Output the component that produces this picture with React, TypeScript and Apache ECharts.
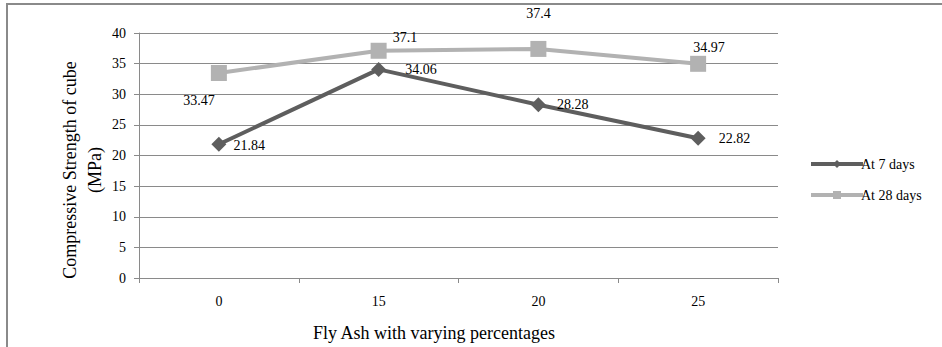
import React, { useEffect, useRef } from "react";
import * as echarts from "echarts";

const categories = ["0", "15", "20", "25"];
const days7 = [21.84, 34.06, 28.28, 22.82];
const days28 = [33.47, 37.1, 37.4, 34.97];
const yTicks = [0, 5, 10, 15, 20, 25, 30, 35, 40];

// label placement per point (styling only)
const lbl7 = [
  { position: "right", offset: [2, 1] },
  { position: "right", offset: [14, 0] },
  { position: "right", offset: [6, 0] },
  { position: "right", offset: [8, 0] },
];
const lbl28 = [
  { position: "bottom", offset: [-20, 8] },
  { position: "right", offset: [1, -13] },
  { position: "top", offset: [0, -15] },
  { position: "right", offset: [-18, -16] },
];

const FONT = "'Liberation Serif', 'Times New Roman', serif";

export default function App() {
  const ref = useRef<HTMLDivElement>(null);
  useEffect(() => {
    const chart = echarts.init(ref.current!, undefined, { renderer: "svg" });
    const labelBase = { show: true, fontFamily: FONT, fontSize: 14, color: "#000" };
    chart.setOption({
      animation: false,
      backgroundColor: "#fff",
      grid: { left: 139, top: 33, width: 639, height: 245, containLabel: false },
      xAxis: {
        type: "category",
        data: categories,
        boundaryGap: true,
        axisLine: { lineStyle: { color: "#8a8a8a", width: 1 } },
        axisTick: { show: true, length: 5, lineStyle: { color: "#8a8a8a" } },
        axisLabel: { fontFamily: FONT, fontSize: 14, color: "#000", margin: 16 },
      },
      yAxis: {
        type: "value",
        min: yTicks[0],
        max: yTicks[yTicks.length - 1],
        interval: 5,
        axisLine: { show: true, lineStyle: { color: "#8a8a8a", width: 1 } },
        axisTick: { show: true, length: 5, lineStyle: { color: "#8a8a8a" } },
        splitLine: { lineStyle: { color: "#8a8a8a", width: 1 } },
        axisLabel: { fontFamily: FONT, fontSize: 14, color: "#000", margin: 13 },
      },
      legend: {
        orient: "vertical",
        left: 804,
        top: 152,
        itemGap: 17,
        itemWidth: 52,
        itemHeight: 10,
        lineStyle: { width: 4 },
        textStyle: { fontFamily: FONT, fontSize: 14, color: "#000", padding: [0, 0, 0, -7] },
        data: ["At 7 days", "At 28 days"],
      },
      series: [
        {
          name: "At 7 days",
          type: "line",
          data: days7.map((v, i) => ({ value: v, label: { ...labelBase, ...lbl7[i] } })),
          symbol: "diamond",
          symbolSize: 15,
          lineStyle: { color: "#5e5e5e", width: 4 },
          itemStyle: { color: "#5e5e5e" },
          z: 3,
        },
        {
          name: "At 28 days",
          type: "line",
          data: days28.map((v, i) => ({ value: v, label: { ...labelBase, ...lbl28[i] } })),
          symbol: "rect",
          symbolSize: 16,
          lineStyle: { color: "#b2b2b2", width: 4 },
          itemStyle: { color: "#b2b2b2" },
          z: 2,
        },
      ],
      graphic: [
        {
          type: "rect",
          shape: { x: 7, y: 4, width: 960, height: 400 },
          style: { fill: "none", stroke: "#8a8a8a", lineWidth: 2 },
          silent: true,
          z: -1,
        },
        {
          type: "text",
          x: 70,
          y: 170,
          rotation: Math.PI / 2,
          style: {
            text: "Compressive Strength of cube",
            fontFamily: FONT,
            fontSize: 18,
            fill: "#000",
            align: "center",
            verticalAlign: "middle",
          },
        },
        {
          type: "text",
          x: 95,
          y: 170,
          rotation: Math.PI / 2,
          style: {
            text: "(MPa)",
            fontFamily: FONT,
            fontSize: 18,
            fill: "#000",
            align: "center",
            verticalAlign: "middle",
          },
        },
        {
          type: "text",
          x: 434,
          y: 333,
          style: {
            text: "Fly Ash with varying percentages",
            fontFamily: FONT,
            fontSize: 18,
            fill: "#000",
            align: "center",
            verticalAlign: "middle",
          },
        },
      ],
    });
    return () => chart.dispose();
  }, []);
  return (
    <div
      ref={ref}
      style={{ position: "absolute", left: 0, top: 0, width: 942, height: 347 }}
    />
  );
}
